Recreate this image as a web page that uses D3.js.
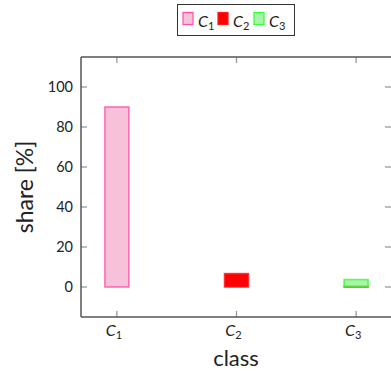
<!DOCTYPE html>
<html>
<head>
<meta charset="utf-8">
<script src="https://cdn.jsdelivr.net/npm/d3@7"></script>
<style>
body { margin: 0; background: #fff; }
text { font-family: Lato, "Open Sans", sans-serif; }
</style>
</head>
<body>
<script>
// dane
var classes = [1, 2, 3];           // C1, C2, C3 na osi x
var seriesNames = ["1", "2", "3"];
var shareC1 = [90, 0, 0];
var shareC2 = [0, 6.7, 0.4];
var shareC3 = [0, 0, 3.3];
var yTicks = [0, 20, 40, 60, 80, 100];

var colors = [
	{ fill: "#f7c1da", stroke: "#ff4fa8" },
	{ fill: "#ff0000", stroke: "#ff1a1a" },
	{ fill: "#a8f5a8", stroke: "#33ff33" }
];

var W = 391, H = 371;
var svg = d3.select("body").append("svg")
	.attr("width", W)
	.attr("height", H);

var x = d3.scaleLinear().domain([0.7, 3.3]).range([81, 392]);
var y = d3.scaleLinear().domain([-15, 115]).range([317, 57]);
var barW = x(1.1) - x(0.9);

var rows = classes.map(function(c, i) {
	return { c: c, s0: shareC1[i], s1: shareC2[i], s2: shareC3[i] };
});
var stacked = d3.stack().keys(["s0", "s1", "s2"])(rows);

// slupki
stacked.forEach(function(layer, k) {
	svg.append("g").selectAll("rect")
		.data(layer)
		.enter().append("rect")
		.attr("x", function(d) { return x(d.data.c) - barW / 2; })
		.attr("y", function(d) { return y(d[1]); })
		.attr("width", barW)
		.attr("height", function(d) { return y(d[0]) - y(d[1]); })
		.attr("fill", colors[k].fill)
		.attr("stroke", colors[k].stroke)
		.attr("stroke-opacity", 0.8)
		.attr("stroke-width", 1.6);
});

// ramka i ticki
var grey = "#999";
var tickLen = 6;
yTicks.forEach(function(t) {
	svg.append("line").attr("x1", 81).attr("x2", 81 + tickLen)
		.attr("y1", y(t)).attr("y2", y(t)).attr("stroke", grey).attr("stroke-width", 1.3);
	svg.append("line").attr("x1", 391 - tickLen).attr("x2", 391)
		.attr("y1", y(t)).attr("y2", y(t)).attr("stroke", grey).attr("stroke-width", 1.3);
	svg.append("text")
		.attr("x", 73).attr("y", y(t))
		.attr("dy", "0.35em")
		.attr("text-anchor", "end")
		.attr("font-size", 14.5)
		.attr("fill", "#222")
		.text(t);
});
classes.forEach(function(c) {
	svg.append("line").attr("x1", x(c)).attr("x2", x(c))
		.attr("y1", y(-15)).attr("y2", y(-15) - tickLen).attr("stroke", grey).attr("stroke-width", 1.3);
	svg.append("line").attr("x1", x(c)).attr("x2", x(c))
		.attr("y1", y(115)).attr("y2", y(115) + tickLen).attr("stroke", grey).attr("stroke-width", 1.3);
	var t = svg.append("text")
		.attr("x", x(c) - 3).attr("y", 336)
		.attr("text-anchor", "middle")
		.attr("font-size", 16)
		.attr("fill", "#222");
	t.append("tspan").attr("font-style", "italic").text("C");
	t.append("tspan").attr("font-size", 11).attr("dy", 3).text(c);
});

svg.append("line").attr("x1", 81).attr("x2", 391).attr("y1", y(115)).attr("y2", y(115))
	.attr("stroke", "#555").attr("stroke-width", 1.5);
svg.append("line").attr("x1", 81).attr("x2", 391).attr("y1", y(-15)).attr("y2", y(-15))
	.attr("stroke", "#555").attr("stroke-width", 1.5);
svg.append("line").attr("x1", 81).attr("x2", 81).attr("y1", y(115)).attr("y2", y(-15))
	.attr("stroke", "#555").attr("stroke-width", 1.5);

// opisy osi
svg.append("text")
	.attr("transform", "translate(33," + ((y(115) + y(-15)) / 2) + ") rotate(-90)")
	.attr("text-anchor", "middle")
	.attr("font-size", 23)
	.attr("fill", "#222")
	.text("share [%]");
svg.append("text")
	.attr("x", (81 + 391) / 2).attr("y", 366)
	.attr("text-anchor", "middle")
	.attr("font-size", 22)
	.attr("fill", "#222")
	.text("class");

// legenda
var lg = svg.append("g");
lg.append("rect").attr("x", 177.5).attr("y", 4.5).attr("width", 117).attr("height", 31)
	.attr("fill", "#fff").attr("stroke", "#333").attr("stroke-width", 1);
var lx = [183, 218, 254];
seriesNames.forEach(function(n, k) {
	lg.append("rect").attr("x", lx[k]).attr("y", 12.5).attr("width", 10).attr("height", 12)
		.attr("fill", colors[k].fill).attr("stroke", colors[k].stroke).attr("stroke-width", 1.2);
	var t = lg.append("text").attr("x", lx[k] + 15).attr("y", 27)
		.attr("font-size", 16).attr("fill", "#222");
	t.append("tspan").attr("font-style", "italic").text("C");
	t.append("tspan").attr("font-size", 11).attr("dy", 3).text(n);
});
</script>
</body>
</html>
